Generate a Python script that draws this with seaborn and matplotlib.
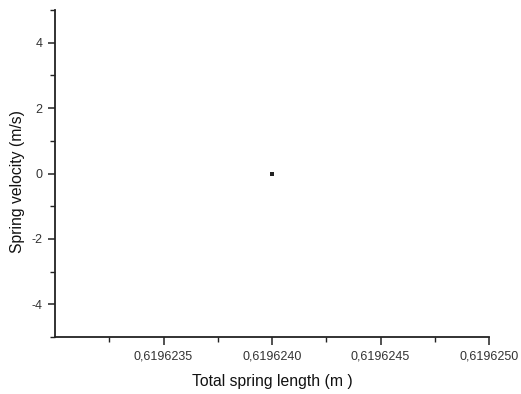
import matplotlib
matplotlib.use("Agg")
import matplotlib.pyplot as plt
import seaborn as sns
import pandas as pd
from matplotlib.ticker import FixedLocator

# Data
length_m = [0.6196240]
velocity_ms = [0.0]
x_tick_values = [0.6196235, 0.6196240, 0.6196245, 0.6196250]
x_tick_labels = ["0,6196235", "0,6196240", "0,6196245", "0,6196250"]
x_minor_values = [0.61962325, 0.61962375, 0.61962425, 0.61962475]
y_tick_values = [-4, -2, 0, 2, 4]
y_tick_labels = ["-4", "-2", "0", "2", "4"]
y_minor_values = [-5, -3, -1, 1, 3, 5]

df = pd.DataFrame({"length": length_m, "velocity": velocity_ms})

sns.set_theme(style="ticks")
plt.rcParams["font.family"] = ["Liberation Sans", "DejaVu Sans"]

fig = plt.figure(figsize=(5.21, 3.94), dpi=100)
ax = fig.add_axes([55/521, 1-337/394, (489-55)/521, (337-10)/394])

sns.scatterplot(data=df, x="length", y="velocity", ax=ax, marker="s",
                s=6, color="#222222", edgecolor="#222222", linewidth=0, legend=False)

ax.set_xlim(0.6196230, 0.6196250)
ax.set_ylim(-5, 5)
ax.set_xticks(x_tick_values)
ax.set_xticklabels(x_tick_labels)
ax.set_yticks(y_tick_values)
ax.set_yticklabels(y_tick_labels)
ax.xaxis.set_minor_locator(FixedLocator(x_minor_values))
ax.yaxis.set_minor_locator(FixedLocator(y_minor_values))

for s in ["top", "right"]:
    ax.spines[s].set_visible(False)
for s in ["left", "bottom"]:
    ax.spines[s].set_color("#222222")
    ax.spines[s].set_linewidth(1.3)

ax.tick_params(axis="x", which="major", direction="out", length=6, width=1.1,
               color="#222222", labelsize=9, labelcolor="#333333", pad=4)
ax.tick_params(axis="y", which="major", direction="out", length=5, width=1.1,
               color="#222222", labelsize=9, labelcolor="#333333", pad=4)
ax.tick_params(which="minor", direction="out", length=3.5, width=1.0, color="#222222")

ax.set_xlabel("Total spring length (m )", fontsize=11.3, labelpad=8, color="#111111")
ax.set_ylabel("Spring velocity (m/s)", fontsize=11.3, color="#111111")
ax.yaxis.set_label_coords(-0.070, 0.474)

fig.savefig("out.png", dpi=100)
